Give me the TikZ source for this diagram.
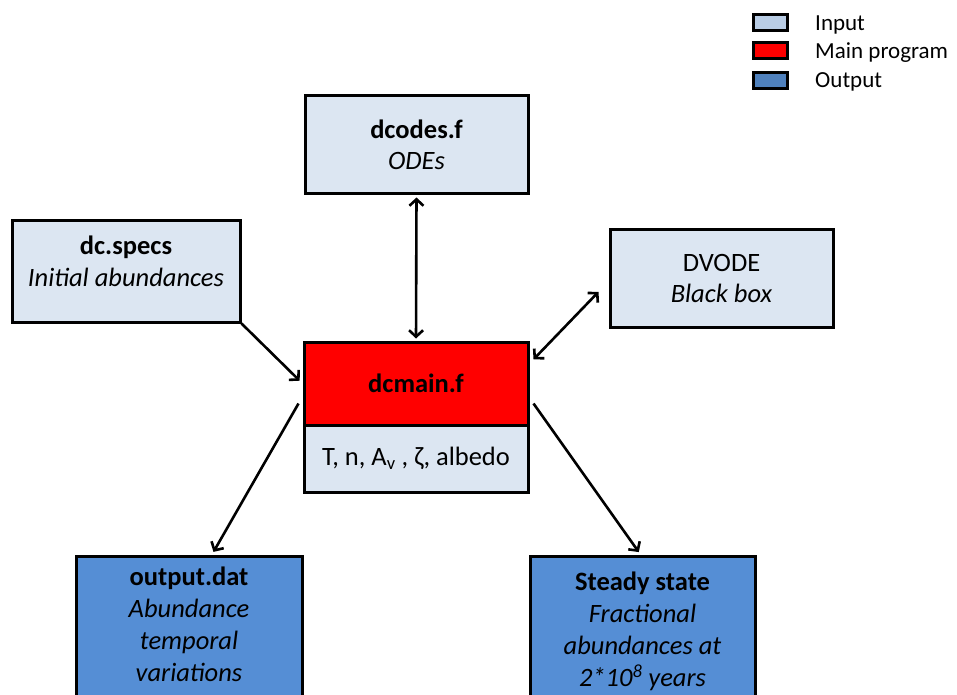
\documentclass[tikz,border=0pt]{standalone}
\usepackage{fontspec}
\setmainfont{Carlito}
\usetikzlibrary{arrows.meta}
\definecolor{inbg}{HTML}{DCE6F2}
\definecolor{outbg}{HTML}{558ED5}
\definecolor{leginbg}{HTML}{B9CDE5}
\definecolor{legoutbg}{HTML}{4F81BD}
\definecolor{mainred}{HTML}{FF0000}
\tikzset{
  box/.style={draw=black, line width=3pt, align=center, inner sep=0pt,
    font=\fontsize{26.5}{31}\selectfont, text=black},
  inbox/.style={box, fill=inbg},
  outbox/.style={box, fill=outbg},
  txt/.style={align=center, inner sep=0pt, font=\fontsize{26.5}{32}\selectfont, text=black},
  legbox/.style={draw=black, line width=3pt, minimum width=34pt, minimum height=16pt, inner sep=0pt},
  legtxt/.style={anchor=west, inner sep=0pt, font=\fontsize{23}{27}\selectfont, text=black},
  conn/.style={line width=2.6pt},
  >={Straight Barb[length=6.5pt,width=14pt]}
}
\begin{document}
\begin{tikzpicture}[x=1pt,y=-1pt]
\clip (0,0) rectangle (957,695);
\fill[white] (0,0) rectangle (957,695);

% legend
\node[legbox, fill=leginbg] (leg1) at (770.5,22.5) {};
\node[legbox, fill=mainred] (leg2) at (770.5,50.5) {};
\node[legbox, fill=legoutbg] (leg3) at (770.5,81) {};
\node[legtxt] (leg1t) at (815,25) {Input};
\node[legtxt] (leg2t) at (815,53) {Main program};
\node[legtxt] (leg3t) at (815,82) {Output};

% input boxes
\node[inbox, minimum width=223pt, minimum height=97pt] (dcodes) at (416.5,144.5)
  {\textbf{dcodes.f}\\\textit{ODEs}};
\node[inbox, minimum width=228pt, minimum height=102pt] (dcspecs) at (126,271) {};
\node[txt] (dcspecsT) at (126,261) {\textbf{dc.specs}\\\textit{Initial abundances}};
\node[inbox, minimum width=223pt, minimum height=98pt] (dvode) at (721.5,278)
  {DVODE\\\textit{Black box}};

% main program
\node[inbox, minimum width=224pt, minimum height=67pt] (params) at (416,458.5)
  {T, n, A\textsubscript{v} , ζ, albedo};
\node[box, fill=mainred, minimum width=224pt, minimum height=83pt] (main) at (416,383.5)
  {\textbf{dcmain.f}};

% output boxes
\node[outbox, minimum width=226pt, minimum height=204pt] (outdat) at (189,658) {};
\node[txt] (outdatT) at (189,624)
  {\textbf{output.dat}\\\textit{Abundance}\\\textit{temporal}\\\textit{variations}};
\node[outbox, minimum width=225pt, minimum height=204pt] (steady) at (642.5,658) {};
\node[txt] (steadyT) at (642.5,631)
  {\textbf{Steady state}\\\textit{Fractional}\\\textit{abundances at}\\\textit{2*10\textsuperscript{8} years}};

% connectors
\draw[conn,->,shorten >=4pt] (dcspecs.south east) -- (main.west);
\draw[conn,<->,shorten <=3pt,shorten >=2pt] (dcodes.south) -- (main.north);
\draw[conn,<->] ([xshift=-10pt]dvode.187) -- ([xshift=4pt]main.12);
\draw[conn,->,shorten >=3pt] ([xshift=-4pt]main.190) -- ([xshift=23pt]outdat.north);
\draw[conn,->,shorten >=3pt] ([xshift=4pt]main.350) -- ([xshift=-2pt]steady.north);
\end{tikzpicture}
\end{document}
